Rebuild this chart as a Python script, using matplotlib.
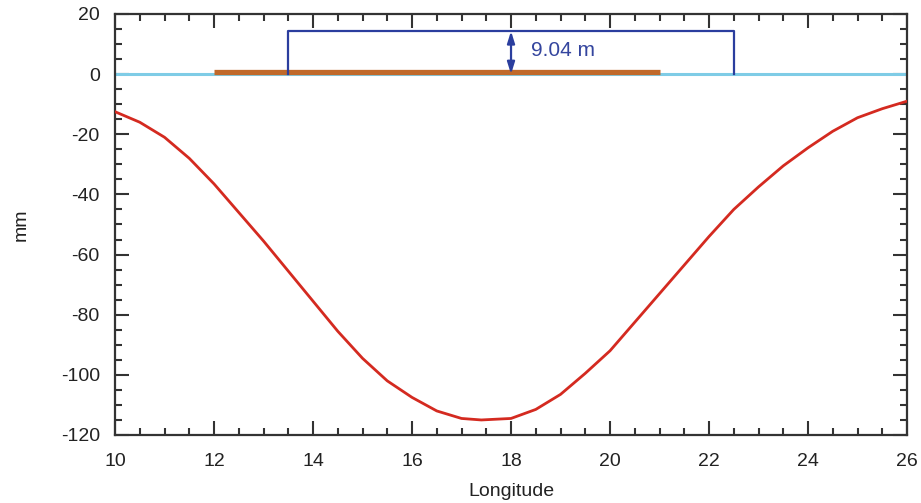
import matplotlib
matplotlib.use("Agg")
import matplotlib.pyplot as plt
from matplotlib.ticker import MultipleLocator

plt.rcParams['font.family'] = ['Liberation Sans', 'DejaVu Sans']
plt.rcParams['axes.unicode_minus'] = False

# deflection profile along longitude (mm)
longitude = [10, 10.5, 11, 11.5, 12, 12.5, 13, 13.5, 14, 14.5, 15, 15.5, 16, 16.5,
             17, 17.4, 18, 18.5, 19, 19.5, 20, 20.5, 21, 21.5, 22, 22.5, 23, 23.5,
             24, 24.5, 25, 25.5, 26]
deflection = [-12.5, -16, -21, -28, -36.5, -46, -55.5, -65.5, -75.5, -85.5, -94.5,
              -102, -107.5, -112, -114.5, -115, -114.5, -111.5, -106.5, -99.5, -92,
              -82.5, -73, -63.5, -54, -45, -37.5, -30.5, -24.5, -19, -14.5, -11.5, -9]

# load footprint and bracketed span
load_start, load_end, load_level = 12, 21, 0.8
span_start, span_end, span_top = 13.5, 22.5, 14.3
arrow_x = 18
span_label = "9.04 m"

fig = plt.figure(figsize=(9.21, 5.03), dpi=100)
ax = fig.add_axes([0.1249, 0.1352, 0.8599, 0.8370])

ax.axhline(0, color="#7fcce6", lw=2.2, zorder=2)
ax.plot([load_start, load_end], [load_level, load_level], color="#c0692a", lw=3.8,
        solid_capstyle="butt", zorder=3)
ax.plot([span_start, span_start, span_end, span_end], [0, span_top, span_top, 0],
        color="#2b3e9e", lw=1.6, zorder=4)
ax.annotate("", xy=(arrow_x, 0), xytext=(arrow_x, span_top),
            arrowprops=dict(arrowstyle="<|-|>,head_length=0.7,head_width=0.22",
                            color="#2b3e9e", lw=1.6, mutation_scale=10,
                            shrinkA=0, shrinkB=0), zorder=4)
ax.text(arrow_x + 0.4, 8.0, span_label, color="#34459e", fontsize=15, va="center")

ax.plot(longitude, deflection, color="#d42a20", lw=2, zorder=5)

ax.set_xlim(10, 26)
ax.set_ylim(-120, 20)
ax.xaxis.set_major_locator(MultipleLocator(2))
ax.xaxis.set_minor_locator(MultipleLocator(0.5))
ax.yaxis.set_major_locator(MultipleLocator(20))
ax.yaxis.set_minor_locator(MultipleLocator(5))
ax.tick_params(which="both", direction="in", top=True, right=True,
               color="#333333", width=1.5, labelsize=14, labelcolor="#222222")
ax.tick_params(which="major", length=10)
ax.tick_params(axis="x", which="major", pad=13)
ax.tick_params(axis="y", which="major", pad=11)
ax.tick_params(which="minor", length=5)
for s in ax.spines.values():
    s.set_linewidth(1.6)
    s.set_color("#333333")

ax.set_xlabel("Longitude", fontsize=14, color="#222222", labelpad=9)
ax.set_ylabel("mm", fontsize=14, color="#222222", labelpad=22)

fig.savefig("out.png", dpi=100)
